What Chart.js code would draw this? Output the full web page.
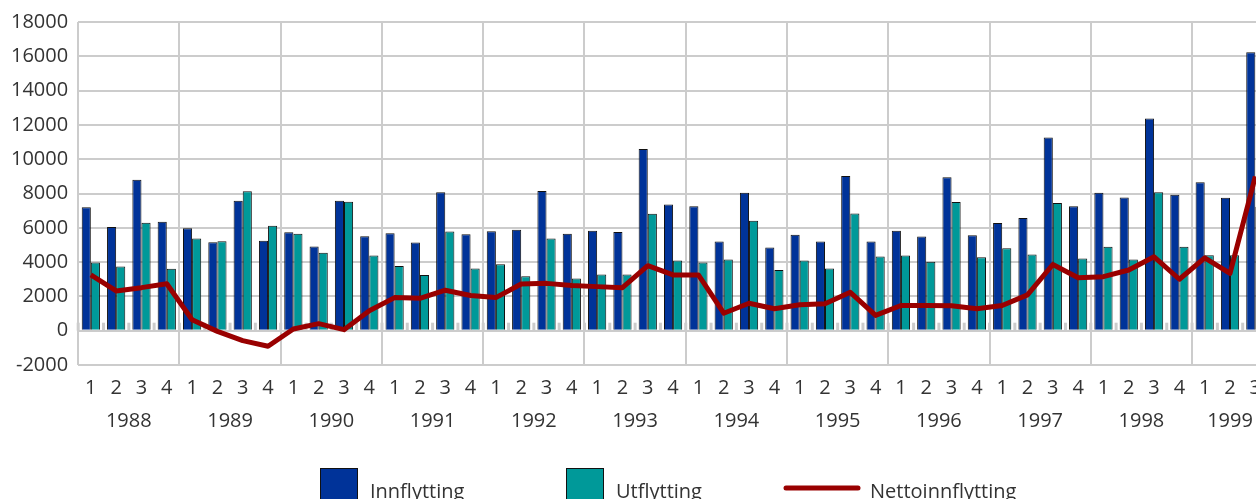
<!DOCTYPE html>
<html>
<head>
<meta charset="utf-8">
<script src="https://cdn.jsdelivr.net/npm/chart.js@4.4.1/dist/chart.umd.min.js"></script>
<style>
  html, body { margin: 0; padding: 0; overflow: hidden; background: #fff; }
  #wrap { width: 1290px; height: 520px; }
</style>
</head>
<body>
<div id="wrap"><canvas id="flyttChart"></canvas></div>
<script>
// data
const years = ["1988", "1989", "1990", "1991", "1992", "1993", "1994", "1995", "1996", "1997", "1998", "1999"];
const quarterLabels = [
  "1", "2", "3", "4", "1", "2", "3", "4", "1", "2", "3", "4",
  "1", "2", "3", "4", "1", "2", "3", "4", "1", "2", "3", "4",
  "1", "2", "3", "4", "1", "2", "3", "4", "1", "2", "3", "4",
  "1", "2", "3", "4", "1", "2", "3", "4", "1", "2", "3"
];
const innflytting = [
  7200, 6050, 8800, 6350,
  5980, 5160, 7570, 5240,
  5740, 4910, 7570, 5510,
  5680, 5140, 8080, 5620,
  5800, 5890, 8150, 5660,
  5830, 5760, 10590, 7360,
  7260, 5200, 8040, 4850,
  5600, 5200, 9020, 5200,
  5830, 5490, 8950, 5560,
  6280, 6570, 11260, 7260,
  8040, 7770, 12380, 7920,
  8650, 7750, 16230
];
const utflytting = [
  3980, 3750, 6300, 3610,
  5370, 5220, 8130, 6120,
  5660, 4540, 7520, 4390,
  3770, 3250, 5780, 3630,
  3880, 3170, 5370, 3050,
  3270, 3270, 6820, 4100,
  3980, 4150, 6410, 3540,
  4100, 3630, 6840, 4330,
  4390, 4020, 7500, 4290,
  4810, 4440, 7440, 4210,
  4890, 4150, 8080, 4890,
  4400, 4400, 7230
];
const nettoinnflytting = [
  3250, 2320, 2510, 2740,
  640, -40, -580, -910,
  100, 410, 60, 1160,
  1930, 1890, 2360, 2050,
  1930, 2720, 2760, 2630,
  2570, 2510, 3790, 3250,
  3250, 1020, 1600, 1280,
  1510, 1570, 2240, 890,
  1470, 1470, 1450, 1280,
  1470, 2090, 3860, 3090,
  3150, 3540, 4310, 3000,
  4250, 3340, 9000
];
const yTicks = { min: -2000, max: 18000, step: 2000 };

// year boundaries and year label positions on the quarter index scale
const yearStarts = [];
quarterLabels.forEach((q, i) => { if (q === "1") yearStarts.push(i); });
const boundaries = yearStarts.map(i => i - 0.5).concat([quarterLabels.length - 0.5]);
const yearCenters = yearStarts.map((s, k) => {
  const end = k + 1 < yearStarts.length ? yearStarts[k + 1] : quarterLabels.length;
  return s + (end - s - 1) / 2;
});
const yearAt = {};
yearCenters.forEach((c, k) => { yearAt[c] = years[k]; });

const FONT = "'Open Sans', 'Noto Sans', sans-serif";
const TEXT = "#333333";
const GRID = "#cccccc";

// small gray marks on the zero line at every quarter boundary
const zeroMarks = {
  id: "zeroMarks",
  beforeDatasetsDraw(chart) {
    const xs = chart.scales.year;
    const y0 = chart.scales.y.getPixelForValue(0);
    const ctx = chart.ctx;
    ctx.save();
    ctx.strokeStyle = GRID;
    ctx.lineWidth = 3;
    for (let i = 0; i <= quarterLabels.length; i++) {
      const x = xs.getPixelForValue(i - 0.5);
      ctx.beginPath();
      ctx.moveTo(x, y0);
      ctx.lineTo(x, y0 - 8);
      ctx.stroke();
    }
    ctx.restore();
  }
};

// legend drawn like the original (boxes for bars, a thick line for the net series)
const bottomLegend = {
  id: "bottomLegend",
  afterDraw(chart) {
    const ctx = chart.ctx;
    const xs = [320, 566, 784];
    const top = 468, size = 38;
    ctx.save();
    ctx.font = "20px " + FONT;
    ctx.textBaseline = "alphabetic";
    chart.data.datasets.forEach((ds, i) => {
      const x = xs[i];
      let tx;
      if (ds.type === "line") {
        ctx.strokeStyle = ds.borderColor;
        ctx.lineWidth = 5;
        ctx.lineCap = "round";
        ctx.beginPath();
        ctx.moveTo(x + 2, top + size / 2 + 1);
        ctx.lineTo(x + 74, top + size / 2 + 1);
        ctx.stroke();
        tx = x + 86;
      } else {
        ctx.fillStyle = ds.backgroundColor;
        ctx.fillRect(x, top, size, size);
        ctx.strokeStyle = "#111111";
        ctx.lineWidth = 1;
        ctx.strokeRect(x + 0.5, top + 0.5, size - 1, size - 1);
        tx = x + size + 12;
      }
      ctx.fillStyle = TEXT;
      ctx.fillText(ds.label, tx, 498);
    });
    ctx.restore();
  }
};

const ctx = document.getElementById("flyttChart").getContext("2d");
new Chart(ctx, {
  type: "bar",
  data: {
    labels: quarterLabels,
    datasets: [
      {
        label: "Innflytting",
        data: innflytting,
        backgroundColor: "#003399",
        borderColor: "#111111",
        borderWidth: 1,
        categoryPercentage: 0.72,
        barPercentage: 1.0,
        order: 2
      },
      {
        label: "Utflytting",
        data: utflytting,
        backgroundColor: "#009999",
        borderColor: "#111111",
        borderWidth: 1,
        categoryPercentage: 0.72,
        barPercentage: 1.0,
        order: 2
      },
      {
        type: "line",
        label: "Nettoinnflytting",
        data: nettoinnflytting,
        borderColor: "#990000",
        backgroundColor: "#990000",
        borderWidth: 5,
        pointRadius: 0,
        tension: 0,
        borderJoinStyle: "round",
        order: 1
      }
    ]
  },
  options: {
    responsive: true,
    maintainAspectRatio: false,
    animation: false,
    layout: { padding: { left: 1, right: 22, top: 3, bottom: 81 } },
    plugins: {
      legend: { display: false },
      tooltip: { enabled: false }
    },
    scales: {
      x: {
        grid: { display: false },
        border: { display: false },
        ticks: {
          color: TEXT,
          font: { family: FONT, size: 20 },
          padding: 3,
          autoSkip: false,
          maxRotation: 0
        }
      },
      year: {
        type: "linear",
        position: "bottom",
        offset: false,
        min: -0.5,
        max: quarterLabels.length - 0.5,
        afterBuildTicks: axis => {
          axis.ticks = boundaries.concat(yearCenters).sort((a, b) => a - b).map(v => ({ value: v }));
        },
        grid: {
          offset: false,
          drawTicks: false,
          lineWidth: 2,
          color: c => (c.tick && boundaries.includes(c.tick.value)) ? GRID : "rgba(0,0,0,0)"
        },
        border: { display: false },
        ticks: {
          color: TEXT,
          font: { family: FONT, size: 20 },
          padding: 6,
          autoSkip: false,
          maxRotation: 0,
          callback: v => yearAt[v] || ""
        }
      },
      y: {
        min: yTicks.min,
        max: yTicks.max,
        grid: { drawTicks: false, lineWidth: 2, color: GRID },
        border: { display: false },
        ticks: {
          stepSize: yTicks.step,
          color: TEXT,
          font: { family: FONT, size: 20 },
          padding: 10,
          callback: v => String(v)
        }
      }
    }
  },
  plugins: [zeroMarks, bottomLegend]
});
</script>
</body>
</html>
